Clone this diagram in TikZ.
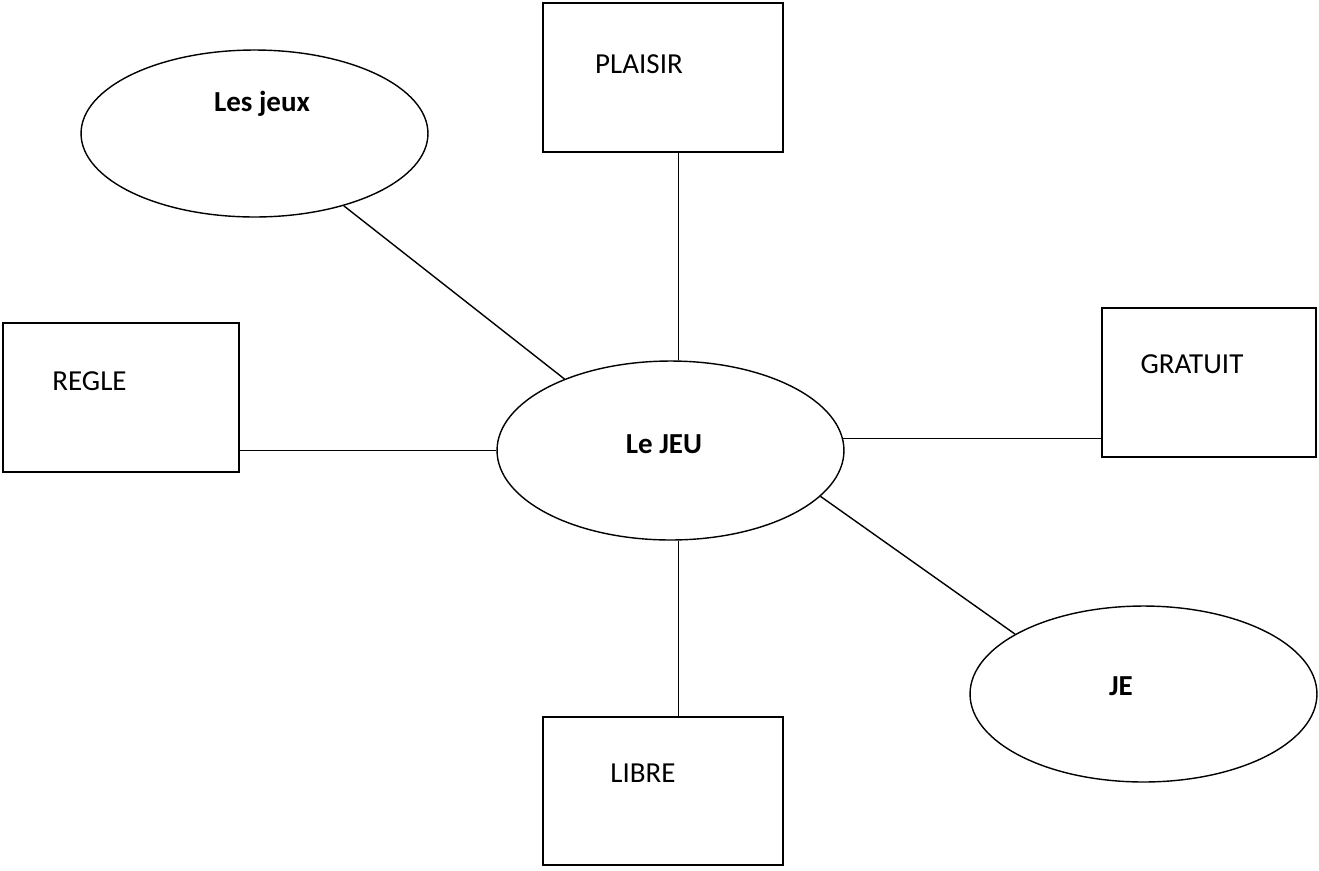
\documentclass[tikz,border=0pt]{standalone}
\usepackage{fontspec}
\setmainfont{Carlito}
\usetikzlibrary{shapes.geometric}
\tikzset{
  boite/.style={draw, line width=1.5pt, inner sep=0pt},
  bulle/.style={ellipse, draw, line width=0.8pt, inner sep=0pt},
  lien/.style={line width=0.8pt},
  mot/.style={anchor=base, inner sep=0pt, font=\fontsize{16.5}{20}\selectfont},
  motgras/.style={mot, font=\fontsize{16.5}{20}\selectfont\bfseries}
}
\begin{document}
\begin{tikzpicture}[x=0.02cm, y=-0.02cm]
\useasboundingbox (0,0) rectangle (1319,870);
%\draw[help lines] (0,0) grid[step=100] (1319,870);
% les cadres
\node[boite, minimum width=4.8cm, minimum height=2.98cm] (plaisir) at (663,77.5) {};
\node[boite, minimum width=4.72cm, minimum height=2.98cm] (regle) at (121,397.5) {};
\node[boite, minimum width=4.28cm, minimum height=2.98cm] (gratuit) at (1209,382.5) {};
\node[boite, minimum width=4.8cm, minimum height=2.96cm] (libre) at (663,791) {};
% les bulles
\node[bulle, minimum width=6.94cm, minimum height=3.34cm] (lesjeux) at (254.5,133.5) {};
\node[bulle, minimum width=6.94cm, minimum height=3.58cm] (lejeu) at (670.5,450.5) {};
\node[bulle, minimum width=6.94cm, minimum height=3.52cm] (je) at (1143.5,694) {};
% les textes
\node[mot] (t-plaisir) at (639,73) {PLAISIR};
\node[mot] (t-regle) at (89.5,390) {REGLE};
\node[mot] (t-gratuit) at (1192,373) {GRATUIT};
\node[mot] (t-libre) at (643,782) {LIBRE};
\node[motgras] (t-lesjeux) at (262,111) {Les jeux};
\node[motgras] (t-lejeu) at (664,453) {Le JEU};
\node[motgras] (t-je) at (1121,695) {JE};
% les liens
\draw[lien] (lesjeux.-39.5) -- (lejeu.146.5);
\draw[lien] (lejeu.85) -- (lejeu.85 |- plaisir.south);
\draw[lien] (lejeu.-85) -- (lejeu.-85 |- libre.north);
\draw[lien] (lejeu.west) -- (lejeu.west -| regle.east);
\draw[lien] (lejeu.4.8) -- (lejeu.4.8 -| gratuit.west);
\draw[lien] (lejeu.-17.8) -- (je.155.1);
\end{tikzpicture}
\end{document}
